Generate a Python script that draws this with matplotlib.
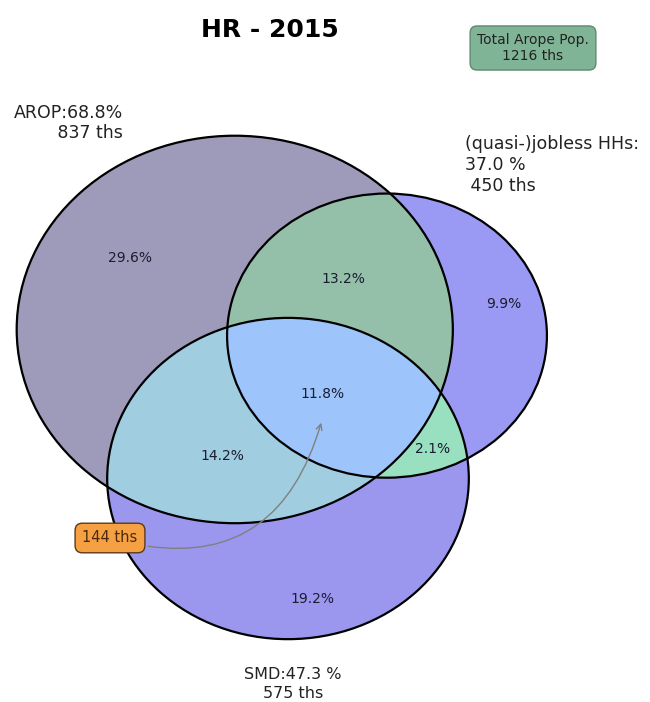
"""
Venn diagram of the AROPE population (HR, 2015): AROP / (quasi-)jobless HHs / SMD.
Circle areas are proportional to set sizes, overlaps to the shared shares.
"""

import numpy as np
import matplotlib
matplotlib.use('Agg')
import matplotlib.pyplot as plt
from matplotlib.patches import Circle, Polygon

# === data ===
title = 'HR - 2015'
total_ths = 1216
set_labels = ['AROP:68.8%\n 837 ths', '(quasi-)jobless HHs:\n37.0 %\n 450 ths', 'SMD:47.3 %\n575 ths']
# region ids: A=AROP, B=jobless, C=SMD
region_ids = ['100', '010', '110', '001', '101', '011', '111']
region_pct = [29.6, 9.9, 13.2, 19.2, 14.2, 2.1, 11.8]
core_ths = 144

region_colors = {'100': '#9e9bba', '010': '#9a99f4', '001': '#9b97ee',
                 '110': '#94c0a9', '101': '#a0cde0', '011': '#98e0c0',
                 '111': '#9dc5fb'}

# text positions, in pixels of the 650x702 picture
label_px = {'100': (130, 258), '010': (504, 304), '110': (343, 279),
            '001': (312, 599), '101': (222, 456), '011': (433, 449),
            '111': (322, 394)}
MASS_PX = (288, 377)      # where the centre of mass of the circles lands
KX, KY = 46.6, 41.4       # px per data unit (picture is squashed vertically)


def px2data(x, y):
    return (x - MASS_PX[0]) / KX, (MASS_PX[1] - y) / KY


def overlap(r1, r2, d):
    if d >= r1 + r2:
        return 0.0
    if d <= abs(r1 - r2):
        return np.pi * min(r1, r2) ** 2
    a1 = np.arccos((d * d + r1 * r1 - r2 * r2) / (2 * d * r1))
    a2 = np.arccos((d * d + r2 * r2 - r1 * r1) / (2 * d * r2))
    k = np.sqrt((-d + r1 + r2) * (d + r1 - r2) * (d - r1 + r2) * (d + r1 + r2))
    return r1 * r1 * a1 + r2 * r2 * a2 - 0.5 * k


def solve_dist(r1, r2, area):
    lo, hi = abs(r1 - r2), r1 + r2
    for _ in range(80):
        mid = (lo + hi) / 2
        if overlap(r1, r2, mid) > area:
            lo = mid
        else:
            hi = mid
    return (lo + hi) / 2


def region_sum(pred):
    return sum(p for rid, p in zip(region_ids, region_pct) if pred(rid))


# set and pairwise areas from the region shares
sizes = [region_sum(lambda r, i=i: r[i] == '1') for i in range(3)]
radii = np.sqrt(np.array(sizes) / np.pi)
d_ab = solve_dist(radii[0], radii[1], region_sum(lambda r: r[0] == '1' and r[1] == '1'))
d_ac = solve_dist(radii[0], radii[2], region_sum(lambda r: r[0] == '1' and r[2] == '1'))
d_bc = solve_dist(radii[1], radii[2], region_sum(lambda r: r[1] == '1' and r[2] == '1'))

# A at origin, B on x axis, C below
cx = (d_ab ** 2 + d_ac ** 2 - d_bc ** 2) / (2 * d_ab)
cy = -np.sqrt(max(d_ac ** 2 - cx ** 2, 0))
centers = np.array([[0, 0], [d_ab, 0], [cx, cy]])
# centre of mass to origin, rotate so that C sits straight below it
w = radii ** 2
mass = (centers * w[:, None]).sum(axis=0) / w.sum()
centers = centers - mass
ang = np.arctan2(centers[2, 1], centers[2, 0])
rot = -np.pi / 2 - ang
R = np.array([[np.cos(rot), -np.sin(rot)], [np.sin(rot), np.cos(rot)]])
centers = centers @ R.T

fig = plt.figure(figsize=(6.5, 7.02), dpi=100)
ax = fig.add_axes([0, 0, 1, 1])
x0, y1 = px2data(0, 0)
x1, y0 = px2data(650, 702)
ax.set_xlim(x0, x1)
ax.set_ylim(y0, y1)
ax.axis('off')


def circ(i, **kw):
    return Circle(centers[i], radii[i], **kw)


# single-set fills
ax.add_patch(circ(0, fc=region_colors['100'], ec='none'))
ax.add_patch(circ(1, fc=region_colors['010'], ec='none'))
ax.add_patch(circ(2, fc=region_colors['001'], ec='none'))

# pairwise fills (clipped)
for rid, draw_i, clip_i in [('110', 1, 0), ('101', 2, 0), ('011', 2, 1)]:
    p = ax.add_patch(circ(draw_i, fc=region_colors[rid], ec='none'))
    p.set_clip_path(circ(clip_i, transform=ax.transData))

# triple fill: C clipped to the A-B lens
t = np.linspace(0, 2 * np.pi, 1440, endpoint=False)
ring_a = centers[0] + radii[0] * np.c_[np.cos(t), np.sin(t)]
ring_b = centers[1] + radii[1] * np.c_[np.cos(t), np.sin(t)]
pts = np.vstack([ring_a[np.hypot(*(ring_a - centers[1]).T) <= radii[1]],
                 ring_b[np.hypot(*(ring_b - centers[0]).T) <= radii[0]]])
mid = pts.mean(axis=0)
pts = pts[np.argsort(np.arctan2(pts[:, 1] - mid[1], pts[:, 0] - mid[0]))]
lens = Polygon(pts, closed=True, transform=ax.transData)
p = ax.add_patch(circ(2, fc=region_colors['111'], ec='none'))
p.set_clip_path(lens)

# outlines
for i in range(3):
    ax.add_patch(circ(i, fill=False, ec='black', lw=1.6))

# region labels
for rid, pct in zip(region_ids, region_pct):
    x, y = px2data(*label_px[rid])
    ax.text(x, y, f'{pct:.1f}%', ha='center', va='center', fontsize=10, color='#1c1c30')

# set labels
ax.text(*px2data(123, 123), set_labels[0], ha='right', va='center',
        multialignment='right', fontsize=12.5, color='#222222')
ax.text(*px2data(465, 165), set_labels[1], ha='left', va='center',
        fontsize=12.5, color='#222222')
ax.text(*px2data(293, 684), set_labels[2], ha='center', va='center',
        fontsize=11.5, linespacing=1.3, color='#222222')

# title and total box
fig.text(270 / 650, 1 - 30 / 702, title, ha='center', va='center',
         fontsize=18, fontweight='bold')
ax.text(*px2data(533, 48), f'Total Arope Pop.\n{total_ths} ths', ha='center', va='center',
        fontsize=10, color='#222222',
        bbox=dict(boxstyle='round,pad=0.5', fc='#80b496', ec='#5f8a70'))

# core (all three) annotation
ax.annotate(f'{core_ths} ths', xy=px2data(322, 420), xytext=(-212, -118),
            textcoords='offset pixels', ha='center', va='center', fontsize=10.5,
            color='#4a2a10',
            bbox=dict(boxstyle='round,pad=0.5', fc='#f5a043', ec='#5a3a1a'),
            arrowprops=dict(arrowstyle='->', connectionstyle='arc3,rad=0.5', color='gray'))

plt.savefig('out.png', dpi=100)
